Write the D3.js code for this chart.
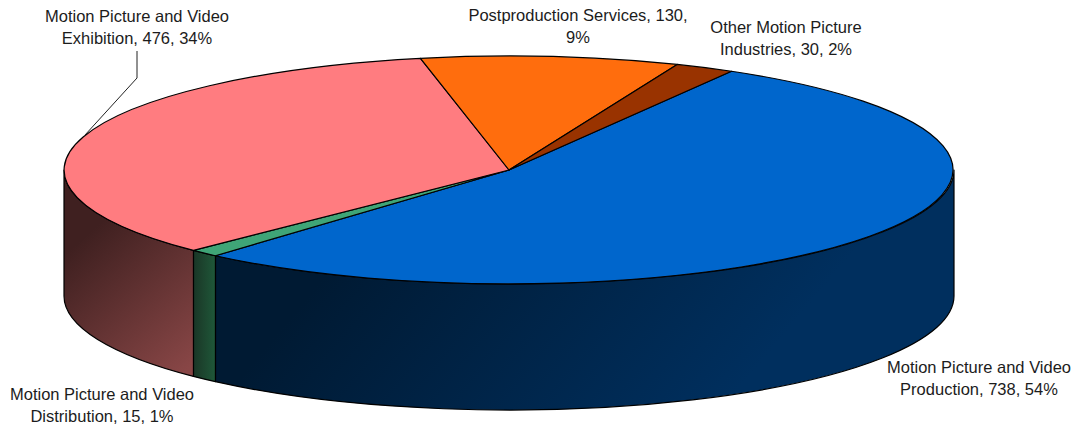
<!DOCTYPE html>
<html lang="en">

<head>
    <meta charset="UTF-8">
    <script src="https://d3js.org/d3.v7.min.js"></script>
    <title>Motion picture industries</title>
    <style>
        html, body { margin: 0; padding: 0; background: #fff; }
        svg { display: block; }
        text { font-family: "Liberation Sans", Arial, sans-serif; font-size: 16.5px; fill: #1c1c1c; }
    </style>
</head>

<body>
    <div id="chart"></div>
    <script>
        // Data, in drawing order (clockwise from the top right)
        const categories = [
            "Motion Picture and Video Production",
            "Motion Picture and Video Distribution",
            "Motion Picture and Video Exhibition",
            "Postproduction Services",
            "Other Motion Picture Industries"
        ];
        const values = [738, 15, 476, 130, 30];
        const percents = [54, 1, 34, 9, 2];
        const labelLines = [
            ["Motion Picture and Video", "Production, 738, 54%"],
            ["Motion Picture and Video", "Distribution, 15, 1%"],
            ["Motion Picture and Video", "Exhibition, 476, 34%"],
            ["Postproduction Services, 130,", "9%"],
            ["Other Motion Picture", "Industries, 30, 2%"]
        ];

        // Styling and layout
        const topColors = ["#0066cc", "#3fa577", "#ff7c80", "#ff6d0d", "#993300"];
        const sideStops = [
            ["#001a33", "#002f5e"],
            ["#1a3526", "#1f5a3a"],
            ["#3f2020", "#884646"]
        ];
        // gradient vectors of the three front walls: x1, y1, x2, y2
        const sideVectors = {
            0: [330, 270, 630, 520],
            1: [193, 300, 217, 300],
            2: [70, 250, 180, 375]
        };
        const labelPos = [[979, 373], [102, 400], [137, 22], [578, 21], [786, 33]];
        const lineHeight = 22;

        const width = 1074;
        const height = 425;
        const cx = 509;
        const cy = 170;
        const rx = 445;
        const ry = 114;
        const depth = 126;
        const startAngle = 30 * Math.PI / 180;

        const svg = d3.select("#chart")
            .append("svg")
            .attr("width", width)
            .attr("height", height)
            .attr("viewBox", `0 0 ${width} ${height}`);

        const pie = d3.pie()
            .sort(null)
            .startAngle(startAngle)
            .endAngle(startAngle + 2 * Math.PI);

        const slices = pie(values);

        const px = a => cx + rx * Math.sin(a);
        const py = a => cy - ry * Math.cos(a);

        // Side wall gradients
        const defs = svg.append("defs");
        const frontFrom = Math.PI / 2;
        const frontTo = 3 * Math.PI / 2;
        const walls = slices
            .map((d, i) => ({
                i,
                a0: Math.max(d.startAngle, frontFrom),
                a1: Math.min(d.endAngle, frontTo)
            }))
            .filter(d => d.a1 > d.a0);

        walls.forEach(d => {
            const v = sideVectors[d.i];
            const grad = defs.append("linearGradient")
                .attr("id", `side${d.i}`)
                .attr("gradientUnits", "userSpaceOnUse")
                .attr("x1", v[0])
                .attr("y1", v[1])
                .attr("x2", v[2])
                .attr("y2", v[3]);
            grad.append("stop").attr("offset", 0).attr("stop-color", sideStops[d.i][0]);
            grad.append("stop").attr("offset", 1).attr("stop-color", sideStops[d.i][1]);
        });

        const wallPath = d => `M${px(d.a0)},${py(d.a0)}`
            + `A${rx},${ry} 0 0 1 ${px(d.a1)},${py(d.a1)}`
            + `L${px(d.a1)},${py(d.a1) + depth}`
            + `A${rx},${ry} 0 0 0 ${px(d.a0)},${py(d.a0) + depth}Z`;

        svg.append("g")
            .selectAll("path")
            .data(walls)
            .join("path")
            .attr("d", wallPath)
            .attr("fill", d => `url(#side${d.i})`)
            .attr("stroke", "#000")
            .attr("stroke-width", 1.2)
            .attr("stroke-linejoin", "round");

        // Top face: unit arc squashed into an ellipse
        const arc = d3.arc().innerRadius(0).outerRadius(1);

        svg.append("g")
            .attr("transform", `translate(${cx},${cy}) scale(${rx},${ry})`)
            .selectAll("path")
            .data(slices)
            .join("path")
            .attr("d", arc)
            .attr("fill", (d, i) => topColors[i])
            .attr("stroke", "#000")
            .attr("stroke-width", 1.2)
            .attr("stroke-linejoin", "round")
            .attr("vector-effect", "non-scaling-stroke");

        // Leader line of the exhibition label
        svg.append("path")
            .attr("d", d3.line()([[137, 51], [137, 78], [85, 135]]))
            .attr("fill", "none")
            .attr("stroke", "#222")
            .attr("stroke-width", 1);

        // Labels
        const label = svg.append("g")
            .selectAll("text")
            .data(labelLines)
            .join("text")
            .attr("text-anchor", "middle")
            .attr("data-category", (d, i) => categories[i])
            .attr("data-percent", (d, i) => percents[i]);

        label.selectAll("tspan")
            .data((d, i) => d.map((t, j) => ({ t, j, i })))
            .join("tspan")
            .attr("x", d => labelPos[d.i][0])
            .attr("y", d => labelPos[d.i][1] + d.j * lineHeight)
            .text(d => d.t);
    </script>
</body>

</html>
